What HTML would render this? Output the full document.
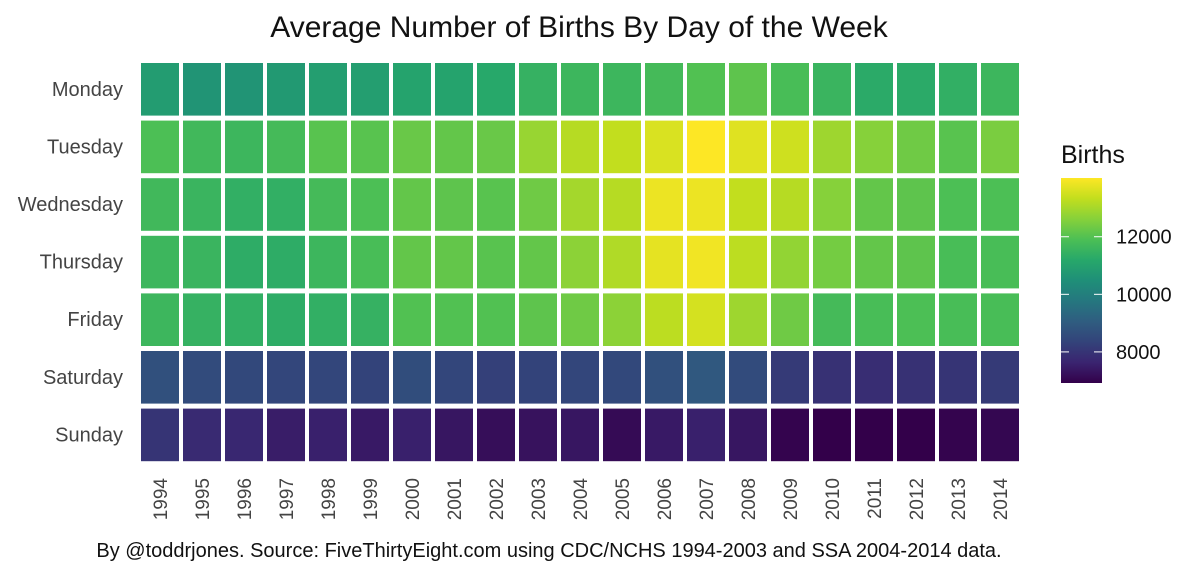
<!DOCTYPE html>
<html><head><meta charset="utf-8"><style>
body{margin:0;background:#fff;font-family:"Liberation Sans",Arial,sans-serif}
svg text{font-family:"Liberation Sans",Arial,sans-serif}
</style></head><body>
<svg id="chart" width="1200" height="574" viewBox="0 0 1200 574" xmlns="http://www.w3.org/2000/svg">
<rect width="1200" height="574" fill="#fff"/>
<text x="579" y="37" font-size="30" text-anchor="middle" fill="#111">Average Number of Births By Day of the Week</text>
<g id="cells"></g>
<g id="xlabels"></g>
<g id="ylabels"></g>
<g>
<text x="1061" y="163" font-size="25" fill="#111">Births</text>
<defs><linearGradient id="vg" x1="0" y1="1" x2="0" y2="0">
<stop offset="0" stop-color="#33004a"/><stop offset="0.1" stop-color="#3a2470"/><stop offset="0.2" stop-color="#33437a"/><stop offset="0.3" stop-color="#2f5d80"/><stop offset="0.4" stop-color="#25777f"/><stop offset="0.5" stop-color="#1f8f78"/><stop offset="0.6" stop-color="#27a86a"/><stop offset="0.7" stop-color="#4cbf55"/><stop offset="0.8" stop-color="#86d13a"/><stop offset="0.9" stop-color="#c2de1e"/><stop offset="1" stop-color="#fde725"/>
</linearGradient></defs>
<rect x="1061" y="178" width="41" height="205" fill="url(#vg)"/>
<g id="legticks"></g>
</g>
<text x="549" y="557" font-size="20" text-anchor="middle" fill="#111">By @toddrjones. Source: FiveThirtyEight.com using CDC/NCHS 1994-2003 and SSA 2004-2014 data.</text>
</svg>
<script>
const years = ["1994","1995","1996","1997","1998","1999","2000","2001","2002","2003","2004","2005","2006","2007","2008","2009","2010","2011","2012","2013","2014"];
const days = ["Monday","Tuesday","Wednesday","Thursday","Friday","Saturday","Sunday"];
const monday    = [10840,10620,10620,10760,10910,10910,11050,11050,11190,11480,11620,11620,11760,11970,12120,11830,11550,11260,11260,11410,11620];
const tuesday   = [11900,11690,11620,11760,12050,12050,12260,12190,12260,12830,13190,13330,13610,14040,13680,13470,12900,12620,12330,12050,12470];
const wednesday = [11690,11550,11410,11410,11760,11900,12190,12120,12050,12330,12970,13190,13830,13830,13330,13190,12620,12190,12120,11900,11900];
const thursday  = [11620,11550,11330,11330,11620,11830,12190,12190,12050,12190,12690,13110,13750,13900,13260,12760,12400,12190,12120,11830,11830];
const friday    = [11620,11480,11410,11330,11410,11480,11970,11970,11970,12120,12330,12690,13260,13540,12900,12330,11760,11830,11900,11830,11830];
const saturday  = [8700,8560,8490,8420,8420,8340,8630,8420,8270,8340,8420,8490,8700,8910,8560,8130,7920,7850,7920,7990,8130];
const sunday    = [7990,7770,7700,7490,7560,7420,7560,7350,7200,7280,7350,7130,7420,7560,7350,6990,6920,6880,6920,6990,7060];
const legendTicks = [8000,10000,12000];
const series = [monday,tuesday,wednesday,thursday,friday,saturday,sunday];

const vmin = 6920, vmax = 14040;
const stops = ["#33004a","#3a2470","#33437a","#2f5d80","#25777f","#1f8f78","#27a86a","#4cbf55","#86d13a","#c2de1e","#fde725"];
function hex(h){return [1,3,5].map(i=>parseInt(h.substr(i,2),16));}
function viridis(v){
  let t=(v-vmin)/(vmax-vmin); t=Math.max(0,Math.min(1,t));
  const p=t*10, i=Math.min(9,Math.floor(p)), f=p-i;
  const a=hex(stops[i]), b=hex(stops[i+1]);
  return "rgb("+a.map((c,k)=>Math.round(c+(b[k]-c)*f)).join(",")+")";
}
const x0=139, xstep=42, y0=61, ystep=57.6;
function xPos(i){return x0+i*xstep;}
function yPos(j){return y0+j*ystep;}
function legY(v){return 383-(v-vmin)/(vmax-vmin)*205;}
const NS="http://www.w3.org/2000/svg";
const cells=document.getElementById("cells");
series.forEach((row,j)=>{
  row.forEach((v,i)=>{
    const r=document.createElementNS(NS,"rect");
    r.setAttribute("x",xPos(i)+2);
    r.setAttribute("y",yPos(j)+2);
    r.setAttribute("width",xstep-4);
    r.setAttribute("height",ystep-5);
    r.setAttribute("fill",viridis(v));
    
    
    cells.appendChild(r);
  });
});
const xl=document.getElementById("xlabels");
years.forEach((y,i)=>{
  const t=document.createElementNS(NS,"text");
  const cx=xPos(i)+xstep/2+7, cy=478;
  t.setAttribute("x",cx);t.setAttribute("y",cy);
  t.setAttribute("transform","rotate(-90 "+cx+" "+cy+")");
  t.setAttribute("text-anchor","end");
  t.setAttribute("font-size","19");t.setAttribute("fill","#444");
  t.textContent=y;
  
  
  xl.appendChild(t);
});
const yl=document.getElementById("ylabels");
days.forEach((d,j)=>{
  const t=document.createElementNS(NS,"text");
  t.setAttribute("x",123);t.setAttribute("y",yPos(j)+ystep/2+6);
  t.setAttribute("font-size","20");t.setAttribute("fill","#444");t.setAttribute("text-anchor","end");
  t.textContent=d;
  
  
  yl.appendChild(t);
});
const lt=document.getElementById("legticks");
legendTicks.forEach(v=>{
  const y=legY(v);
  [[1061,1069],[1094,1102]].forEach(([a,b])=>{
    const l=document.createElementNS(NS,"line");
    l.setAttribute("x1",a);l.setAttribute("x2",b);l.setAttribute("y1",y);l.setAttribute("y2",y);
    l.setAttribute("stroke","#fff");l.setAttribute("stroke-width","1");
    
    
    lt.appendChild(l);
  });
  const t=document.createElementNS(NS,"text");
  t.setAttribute("x",1116);t.setAttribute("y",y+7);t.setAttribute("font-size","20");t.setAttribute("fill","#111");
  t.textContent=v;
  
  
  lt.appendChild(t);
});
</script>
</body></html>
